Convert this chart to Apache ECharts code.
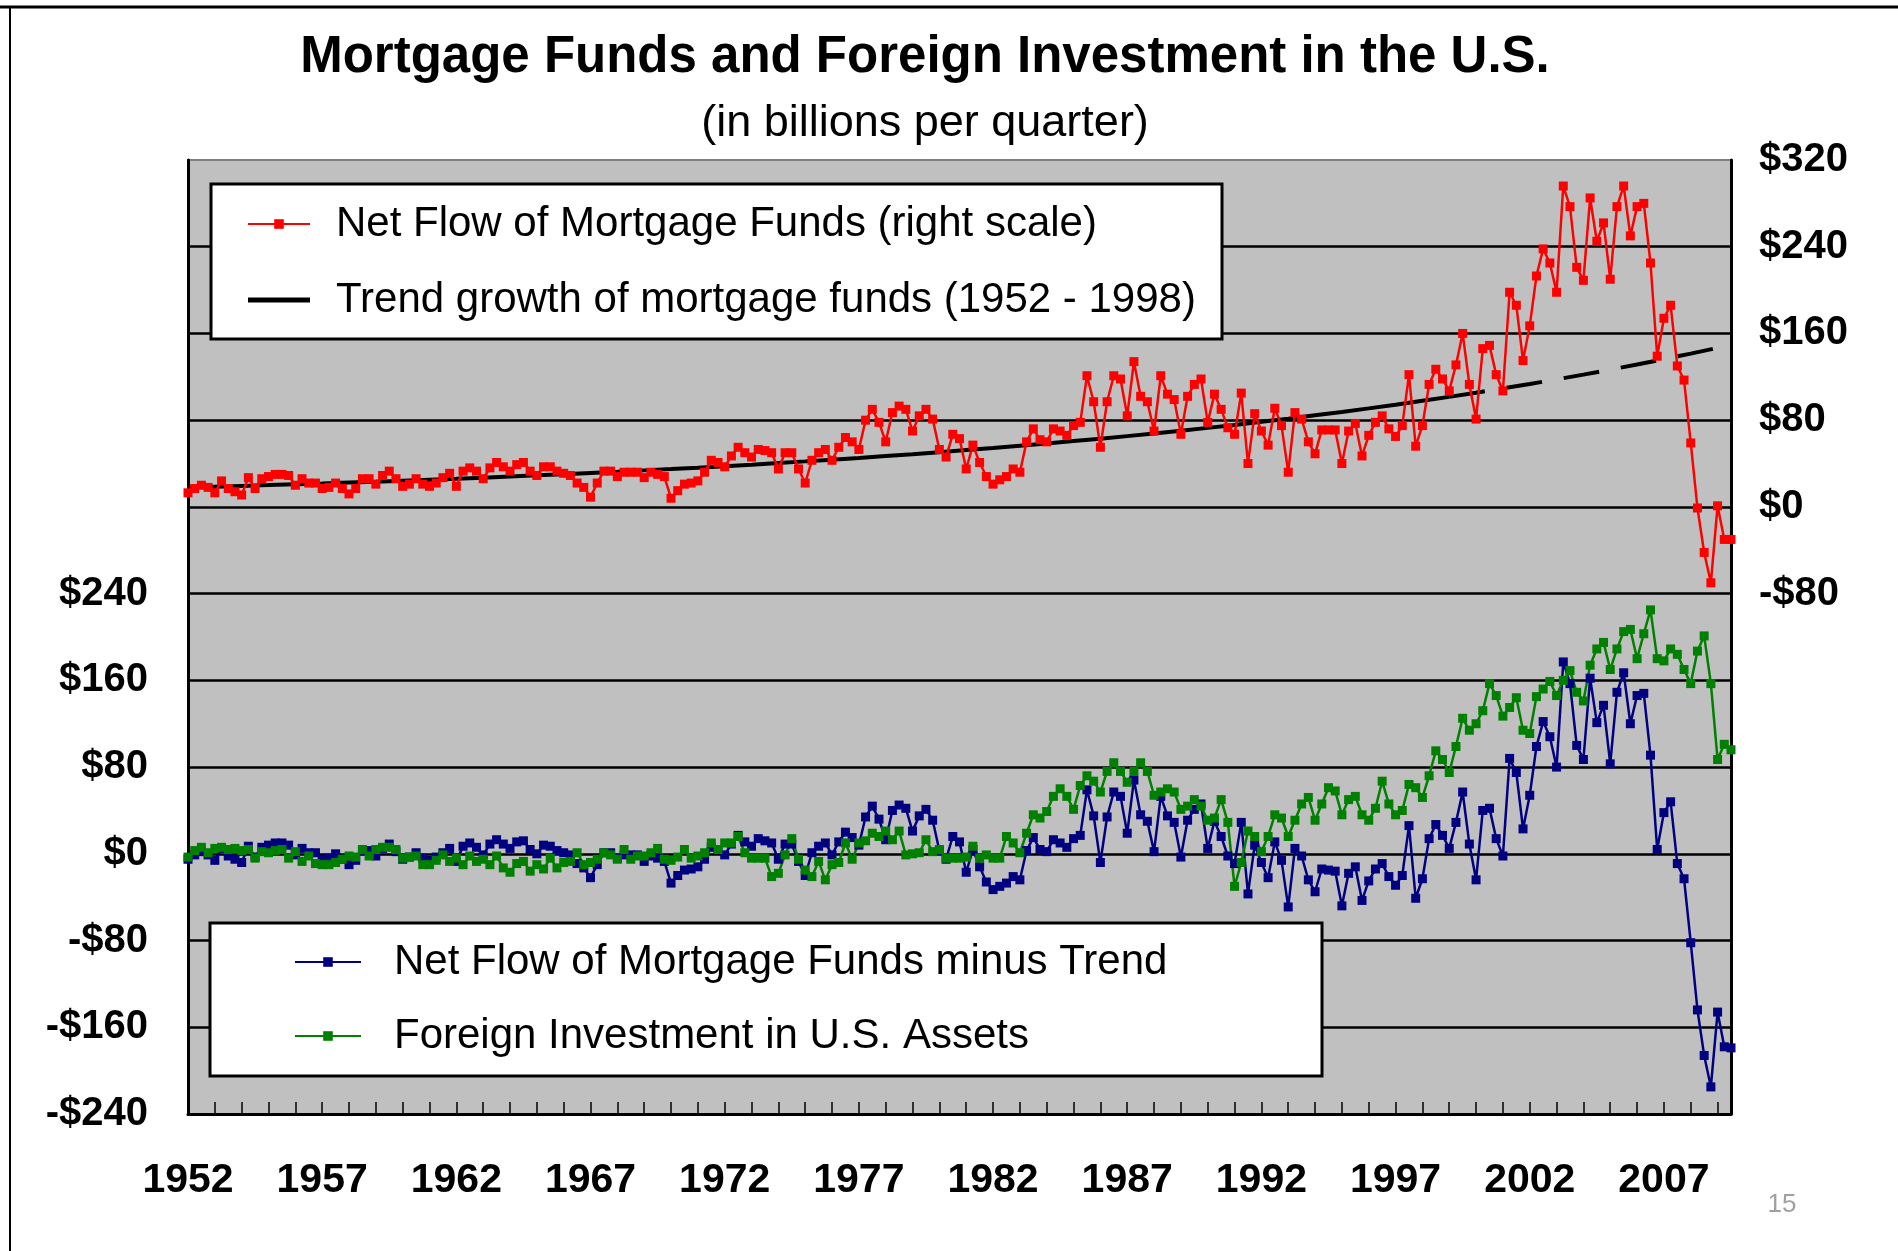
<!DOCTYPE html>
<html>
<head>
<meta charset="utf-8">
<title>Mortgage Funds and Foreign Investment in the U.S.</title>
<script src="https://cdn.jsdelivr.net/npm/echarts@6/dist/echarts.min.js"></script>
<style>
  html, body { margin: 0; padding: 0; background: #fff; }
  #chart { width: 1898px; height: 1251px; }
</style>
</head>
<body>
<div id="chart"></div>
<script>
// quarterly categories, 1952 Q1 .. 2009 Q3
const quarters = [];
for (let y = 1952; y <= 2009; y++) {
  for (let q = 1; q <= 4; q++) quarters.push(y + ' Q' + q);
}
quarters.length = 231;

// net flow of mortgage funds, $bn per quarter (right scale)
const mortgageFlow = [
  13, 17, 20, 18, 13, 24, 17, 14, 11, 27,
  17, 26, 28, 30, 30, 29, 20, 26, 22, 22,
  17, 18, 22, 17, 12, 17, 26, 26, 21, 29,
  33, 26, 19, 21, 26, 21, 19, 22, 27, 31,
  19, 33, 36, 33, 26, 36, 41, 37, 33, 39,
  41, 33, 29, 37, 37, 33, 31, 29, 22, 18,
  9, 22, 33, 33, 28, 32, 32, 32, 27, 32,
  30, 28, 8, 15, 21, 22, 24, 32, 43, 41,
  37, 47, 55, 50, 46, 53, 52, 50, 35, 50,
  50, 35, 22, 43, 50, 53, 43, 55, 64, 60,
  53, 80, 90, 78, 60, 87, 93, 90, 70, 84,
  90, 81, 53, 46, 67, 63, 35, 57, 41, 28,
  21, 25, 28, 35, 32, 60, 72, 62, 60, 72,
  70, 66, 75, 78, 121, 97, 55, 97, 121, 118,
  84, 134, 102, 97, 70, 121, 104, 99, 67, 102,
  113, 118, 78, 104, 90, 73, 67, 105, 40, 86,
  70, 57, 91, 75, 32, 87, 81, 60, 49, 71,
  71, 71, 40, 70, 77, 47, 66, 78, 84, 72,
  65, 75, 122, 56, 75, 113, 127, 118, 107, 131,
  160, 113, 81, 146, 149, 122, 107, 198, 186, 135,
  167, 213, 238, 225, 198, 296, 277, 221, 209, 285,
  245, 262, 210, 277, 296, 250, 277, 280, 225, 139,
  174, 186, 130, 117, 59, -1, -42, -70, 1, -30, -30
];

// trend growth of mortgage funds, one value per year (first quarter), 1952 .. 2009
const trendYears = [
  1952, 1953, 1954, 1955, 1956, 1957, 1958, 1959, 1960, 1961,
  1962, 1963, 1964, 1965, 1966, 1967, 1968, 1969, 1970, 1971,
  1972, 1973, 1974, 1975, 1976, 1977, 1978, 1979, 1980, 1981,
  1982, 1983, 1984, 1985, 1986, 1987, 1988, 1989, 1990, 1991,
  1992, 1993, 1994, 1995, 1996, 1997, 1998, 1999, 2000, 2001,
  2002, 2003, 2004, 2005, 2006, 2007, 2008, 2009
];
const trendValues = [
  18.0, 18.7, 19.4, 20.1, 20.9, 21.6, 22.5, 23.3, 24.2, 25.1,
  26.0, 27.0, 28.0, 29.1, 30.1, 31.3, 32.4, 33.7, 34.9, 36.2,
  37.6, 39.0, 40.5, 42.0, 43.6, 45.2, 46.9, 48.6, 50.5, 52.4,
  54.3, 56.4, 58.5, 60.7, 62.9, 65.3, 67.7, 70.3, 72.9, 75.6,
  78.5, 81.4, 84.5, 87.6, 90.9, 94.3, 97.9, 101.5, 105.3, 109.3,
  113.4, 117.6, 122.0, 126.6, 131.4, 136.3, 141.4, 146.7
];
const trendLast = 149.4;      // 2009 Q3
const trendFitEnd = 1999;     // solid up to here, projected (dashed) after

// net flow of mortgage funds minus trend (left scale)
const flowMinusTrend = [
  -5, -1, 2, -1, -6, 5, -2, -5, -8, 7,
  -3, 6, 8, 10, 10, 8, -1, 5, 1, 1,
  -5, -4, 0, -5, -10, -6, 3, 3, -2, 5,
  9, 2, -5, -3, 1, -4, -6, -3, 1, 5,
  -7, 7, 10, 6, -1, 9, 13, 9, 5, 11,
  12, 4, 0, 8, 7, 3, 1, -1, -9, -13,
  -22, -10, 1, 1, -4, -1, -1, -1, -7, -2,
  -4, -7, -27, -20, -15, -14, -12, -5, 6, 4,
  -1, 9, 17, 11, 7, 14, 12, 10, -5, 9,
  9, -7, -20, 1, 7, 10, -1, 11, 20, 15,
  8, 34, 44, 32, 13, 40, 45, 42, 21, 35,
  41, 31, 3, -5, 16, 11, -17, 4, -12, -26,
  -33, -30, -27, -21, -24, 3, 15, 4, 2, 13,
  10, 6, 14, 17, 59, 35, -8, 34, 57, 53,
  19, 68, 36, 30, 2, 53, 35, 29, -3, 31,
  41, 46, 5, 30, 16, -2, -9, 29, -37, 8,
  -8, -22, 11, -6, -49, 5, -2, -24, -35, -14,
  -15, -16, -48, -18, -12, -43, -25, -14, -9, -21,
  -29, -20, 26, -41, -23, 14, 27, 17, 5, 29,
  57, 9, -24, 40, 42, 14, -2, 88, 75, 23,
  54, 99, 122, 108, 80, 177, 157, 100, 87, 162,
  121, 137, 83, 149, 167, 120, 146, 148, 91, 4,
  38, 48, -9, -23, -82, -144, -186, -215, -146, -178, -179
];

// foreign investment in U.S. assets (left scale)
const foreignInvestment = [
  -3, 3, 6, 1, 5, 6, 4, 5, 3, 4,
  -4, 2, 1, 3, 4, -4, 2, -7, -2, -9,
  -10, -10, -8, -5, -2, -3, 4, -2, 4, 6,
  6, 4, -4, -3, -2, -10, -10, -6, -1, -7,
  -4, -10, -2, -7, -5, -10, -2, -13, -17, -9,
  -7, -16, -10, -14, -4, -13, -8, -7, 1, -10,
  -8, -5, 1, -1, -5, 4, -5, -2, -2, 1,
  5, -5, -6, -3, 4, -4, -2, 1, 10, 4,
  10, 10, 16, 1, -4, -4, -4, -21, -18, -1,
  14, -5, -15, -21, -7, -24, -10, -8, 10, -5,
  10, 12, 19, 16, 21, 13, 21, -1, 0, 1,
  13, 2, 4, -4, -4, -4, -3, 7, -4, -1,
  -4, -4, 16, 10, 1, 19, 36, 33, 39, 53,
  60, 53, 41, 63, 72, 67, 57, 76, 84, 76,
  66, 76, 84, 76, 54, 57, 60, 57, 41, 44,
  50, 44, 31, 33, 50, 29, -30, -8, 21, 16,
  2, 16, 36, 33, 16, 31, 46, 52, 31, 46,
  61, 58, 36, 50, 53, 36, 31, 42, 67, 46,
  36, 40, 64, 61, 52, 72, 95, 87, 75, 99,
  125, 114, 120, 132, 157, 146, 127, 135, 144, 114,
  111, 145, 152, 159, 146, 160, 169, 149, 141, 174,
  189, 195, 170, 189, 205, 207, 180, 203, 225, 180,
  178, 189, 184, 170, 157, 187, 201, 157, 87, 101, 96
];

// tick labels
const leftTickValues = [-240, -160, -80, 0, 80, 160, 240];
const leftTickLabels = ['-$240', '-$160', '-$80', '$0', '$80', '$160', '$240'];
const rightTickValues = [-80, 0, 80, 160, 240, 320];
const rightTickLabels = ['-$80', '$0', '$80', '$160', '$240', '$320'];

const FONT = '"Liberation Sans", Arial, sans-serif';
const NAME_FLOW = 'Net Flow of Mortgage Funds (right scale)';
const NAME_TREND = 'Trend growth of mortgage funds (1952 - 1998)';
const NAME_DIFF = 'Net Flow of Mortgage Funds minus Trend';
const NAME_FOREIGN = 'Foreign Investment in U.S. Assets';

const trendSolid = [];
const trendDashed = [];
trendYears.forEach((yr, k) => {
  const pt = [quarters[(yr - 1952) * 4], trendValues[k]];
  if (yr <= trendFitEnd) trendSolid.push(pt);
  if (yr >= trendFitEnd) trendDashed.push(pt);
});
trendDashed.push([quarters[quarters.length - 1], trendLast]);

function tickLabel(values, labels) {
  return v => {
    const k = values.indexOf(v);
    return k < 0 ? '' : labels[k];
  };
}

// line series with a square marker on every quarter
function markedLine(name, data, yAxisIndex, color) {
  return {
    name,
    type: 'line',
    yAxisIndex,
    data,
    symbol: 'rect',
    symbolSize: 9,
    showAllSymbol: true,
    lineStyle: { color, width: 2.5 },
    itemStyle: { color },
    emphasis: { disabled: true },
  };
}

const chart = echarts.init(document.getElementById('chart'));

const legendText = {
  fontFamily: FONT,
  fontSize: 42,
  color: '#000',
  lineHeight: 44,
};

const option = {
  animation: false,
  backgroundColor: '#fff',
  title: [
    {
      text: 'Mortgage Funds and Foreign Investment in the U.S.',
      left: 920,
      top: 27,
      textAlign: 'center',
      textStyle: { fontFamily: FONT, fontSize: 51, fontWeight: 'bold', color: '#000' },
    },
    {
      text: '(in billions per quarter)',
      left: 920,
      top: 96,
      textAlign: 'center',
      textStyle: { fontFamily: FONT, fontSize: 45, fontWeight: 'normal', color: '#000' },
    },
  ],
  grid: {
    left: 188,
    right: 167,
    top: 160,
    bottom: 137,
    show: true,
    backgroundColor: '#c0c0c0',
    borderColor: '#808080',
    borderWidth: 2,
  },
  legend: [
    {
      data: [NAME_FLOW, { name: NAME_TREND, icon: 'path://M0,0H62V5H0Z' }],
      orient: 'vertical',
      left: 247,
      top: 202,
      padding: 0,
      itemWidth: 62,
      itemHeight: 12,
      itemGap: 32,
      z: 20,
      selectedMode: false,
      formatter: name => '{g|}' + name,
      textStyle: Object.assign({ rich: { g: { width: 21 } } }, legendText),
    },
    {
      data: [NAME_DIFF, NAME_FOREIGN],
      orient: 'vertical',
      left: 294,
      top: 940,
      padding: 0,
      itemWidth: 66,
      itemHeight: 12,
      itemGap: 30,
      z: 20,
      selectedMode: false,
      formatter: name => '{g|}' + name,
      textStyle: Object.assign({ rich: { g: { width: 28 } } }, legendText),
    },
  ],
  xAxis: {
    type: 'category',
    data: quarters,
    boundaryGap: false,
    axisLine: { onZero: false, lineStyle: { color: '#000', width: 3 } },
    axisTick: {
      inside: true,
      length: 12,
      interval: i => i % 4 === 0,
      lineStyle: { color: '#000', width: 1.5 },
    },
    axisLabel: {
      interval: i => i % 20 === 0,
      formatter: v => v.slice(0, 4),
      fontFamily: FONT,
      fontSize: 41,
      fontWeight: 'bold',
      color: '#000',
      margin: 46,
    },
    splitLine: { show: false },
  },
  yAxis: [
    {
      type: 'value',
      position: 'left',
      min: -240,
      max: 640,
      interval: 80,
      axisLine: { show: true, lineStyle: { color: '#000', width: 3 } },
      axisTick: { show: false },
      axisLabel: {
        formatter: tickLabel(leftTickValues, leftTickLabels),
        fontFamily: FONT,
        fontSize: 40,
        fontWeight: 'bold',
        color: '#000',
        margin: 40,
      },
      splitLine: {
        show: true,
        showMinLine: false,
        showMaxLine: false,
        lineStyle: { color: '#000', width: 2.5 },
      },
    },
    {
      type: 'value',
      position: 'right',
      min: -560,
      max: 320,
      interval: 80,
      axisLine: { show: true, lineStyle: { color: '#000', width: 3 } },
      axisTick: { show: false },
      axisLabel: {
        formatter: tickLabel(rightTickValues, rightTickLabels),
        fontFamily: FONT,
        fontSize: 40,
        fontWeight: 'bold',
        color: '#000',
        margin: 28,
      },
      splitLine: { show: false },
    },
  ],
  series: [
    {
      name: NAME_TREND,
      type: 'line',
      yAxisIndex: 1,
      data: trendSolid,
      symbol: 'none',
      lineStyle: { color: '#000', width: 4 },
      itemStyle: { color: '#000' },
      emphasis: { disabled: true },
    },
    {
      name: NAME_TREND,
      type: 'line',
      yAxisIndex: 1,
      data: trendDashed,
      symbol: 'none',
      lineStyle: { color: '#000', width: 4, type: [36, 22] },
      itemStyle: { color: '#000' },
      emphasis: { disabled: true },
    },
    markedLine(NAME_FLOW, mortgageFlow, 1, '#ff0000'),
    markedLine(NAME_DIFF, flowMinusTrend, 0, '#000080'),
    markedLine(NAME_FOREIGN, foreignInvestment, 0, '#008000'),
  ],
  graphic: [
    // slide frame
    { type: 'line', z: 10, shape: { x1: 0, y1: 7, x2: 1898, y2: 7 }, style: { stroke: '#000', lineWidth: 3 } },
    { type: 'line', z: 10, shape: { x1: 10, y1: 7, x2: 10, y2: 1251 }, style: { stroke: '#000', lineWidth: 2 } },
    // legend boxes
    { type: 'rect', z: 10, shape: { x: 211, y: 184, width: 1011, height: 155 }, style: { fill: '#fff', stroke: '#000', lineWidth: 3 } },
    { type: 'rect', z: 10, shape: { x: 210, y: 923, width: 1112, height: 153 }, style: { fill: '#fff', stroke: '#000', lineWidth: 3 } },
    // slide number
    { type: 'text', z: 10, x: 1782, y: 1205, style: { text: '15', fill: '#a0a0a0', font: '26px ' + FONT, textAlign: 'center', textVerticalAlign: 'middle' } },
  ],
};

chart.setOption(option);
</script>
</body>
</html>
